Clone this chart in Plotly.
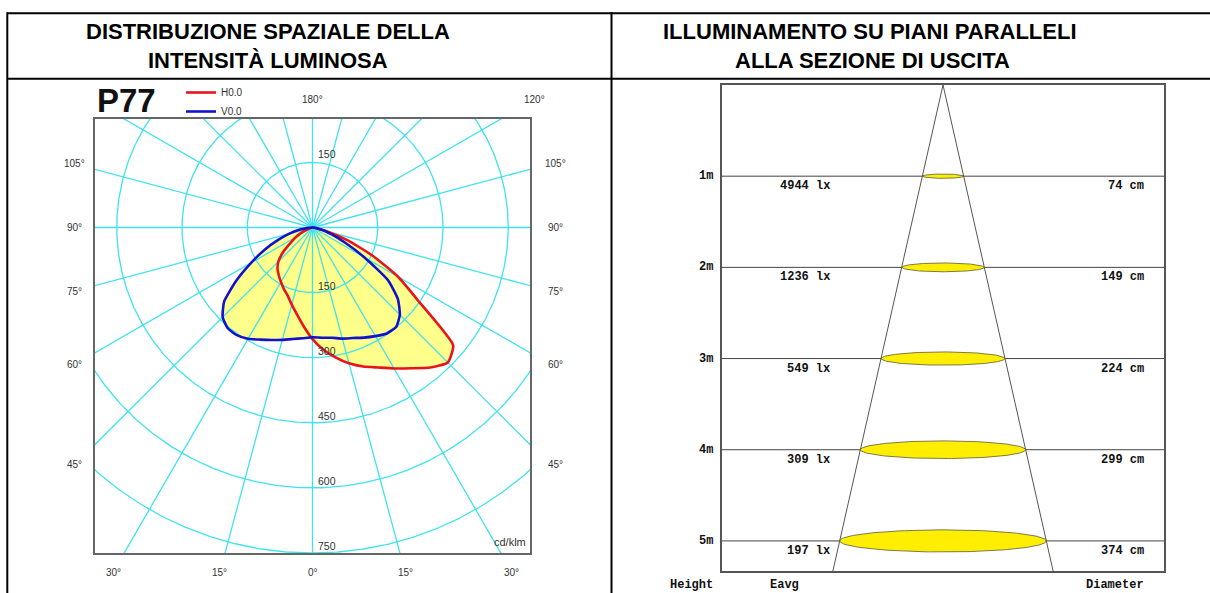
import numpy as np
import plotly.graph_objects as go

W, H = 1210, 593

# ---------------- polar photometric data (cd/klm) ----------------
# gamma measured from the downward vertical; negative = left half-plane
gamma_h0 = [-90, -70, -65, -60, -55, -50, -45, -40, -35, -30, -25, -20, -15, -10, -5, 0,
            5, 10, 15, 20, 25, 30, 35, 40, 45, 50, 55, 60, 65, 70, 75, 80, 90]
cdklm_h0 = [0, 12, 28, 44, 61, 88, 111, 125, 135, 145, 156, 167, 184, 204, 229, 257,
            282, 304, 324, 341, 356, 375, 396, 421, 440, 422, 300, 227, 150, 85, 35, 12, 0]

gamma_v0 = [-90, -85, -80, -75, -70, -65, -60, -55, -50, -45, -40, -35, -30, -25, -20, -15, -10, -5, 0,
            5, 10, 15, 20, 25, 30, 35, 40, 45, 50, 55, 60, 65, 70, 75, 80, 90]
cdklm_v0 = [0, 12, 31, 55, 84, 122, 163, 214, 265, 292, 303, 303, 296, 285, 276, 268, 261, 256, 253,
            255, 258, 265, 271, 280, 289, 298, 299, 284, 256, 212, 138, 82, 47, 27, 12, 0]

grid_radii = [150, 300, 450, 600, 750]
grid_step_deg = 15
side_angle_labels = [105, 90, 75, 60, 45]
bottom_angle_labels = [-30, -15, 0, 15, 30]
top_angle_labels = [180, 120]

# ---------------- illuminance cone data ----------------
heights_m = [1, 2, 3, 4, 5]
eavg_lx = [4944, 1236, 549, 309, 197]
diam_cm = [74, 149, 224, 299, 374]

# ---------------- layout geometry (pixels) ----------------
PX0, PX1, PY0, PY1 = 95, 530, 119, 553      # polar box
RX0, RX1, RY0, RY1 = 722, 1164, 85, 571     # cone box
POL_X = [-500, 500]
POL_Y = [-750, 250]
CONE_X = [-400, 400]
CONE_Y = [5.33, 0]

def dom_x(a, b):
    return [a / W, b / W]

def dom_y(top, bottom):
    return [1 - bottom / H, 1 - top / H]

def to_xy(g, r):
    g = np.radians(np.asarray(g, float))
    r = np.asarray(r, float)
    return r * np.sin(g), -r * np.cos(g)

def pdx(X):  # polar x units -> x-domain fraction (may lie outside 0..1)
    return (X - POL_X[0]) / (POL_X[1] - POL_X[0])

def pdy(Y):
    return (Y - POL_Y[0]) / (POL_Y[1] - POL_Y[0])

fig = go.Figure()

YELLOW = "#FFFF8C"
CYAN = "#3FE3EE"
RED = "#E8141C"
BLUE = "#1212CC"

# fills
for g, r in [(gamma_h0, cdklm_h0), (gamma_v0, cdklm_v0)]:
    x, y = to_xy(g, r)
    fig.add_trace(go.Scatter(x=x, y=y, mode="lines", fill="toself", fillcolor=YELLOW,
                             line=dict(width=0, shape="spline", smoothing=0.5),
                             hoverinfo="skip", showlegend=False, xaxis="x", yaxis="y"))

# polar grid
t = np.linspace(0, 2 * np.pi, 721)
gx, gy = [], []
for R in grid_radii:
    gx += list(R * np.cos(t)) + [None]
    gy += list(R * np.sin(t)) + [None]
for a in range(0, 360, grid_step_deg):
    ex, ey = to_xy([a, a], [0, 1000])
    gx += list(ex) + [None]
    gy += list(ey) + [None]
fig.add_trace(go.Scatter(x=gx, y=gy, mode="lines", line=dict(color=CYAN, width=1.3),
                         hoverinfo="skip", showlegend=False, xaxis="x", yaxis="y"))

# curves
for name, g, r, col in [("H0.0", gamma_h0, cdklm_h0, RED), ("V0.0", gamma_v0, cdklm_v0, BLUE)]:
    x, y = to_xy(g, r)
    fig.add_trace(go.Scatter(x=x, y=y, mode="lines", name=name,
                             line=dict(color=col, width=2.6, shape="spline", smoothing=0.5),
                             xaxis="x", yaxis="y"))

annotations = []
LBL = dict(family="Liberation Sans, Arial, sans-serif", size=10, color="#333333")

# intensity labels on circles
annotations.append(dict(x=0, y=grid_radii[0], xref="x", yref="y", text=str(grid_radii[0]),
                        showarrow=False, xanchor="left", yanchor="bottom", xshift=3,
                        font=dict(LBL, size=10.5)))
for R in grid_radii:
    annotations.append(dict(x=0, y=-R, xref="x", yref="y", text=str(R), showarrow=False,
                            xanchor="left", yanchor="bottom", xshift=3, yshift=-1, font=dict(LBL, size=10.5)))

# angle labels along rays (outside the box)
LABEL_X = 547
for a in side_angle_labels:
    ga = np.radians(a)
    y = -LABEL_X * np.cos(ga) / np.sin(ga)
    for X in (-LABEL_X, 559):
        annotations.append(dict(x=pdx(X), y=pdy(y), xref="x domain", yref="y domain", text=f"{a}°",
                                showarrow=False, xanchor="center", yanchor="middle", font=LBL))
for a in bottom_angle_labels:
    Y = -794
    x = -Y * np.tan(np.radians(a))
    annotations.append(dict(x=pdx(x), y=pdy(Y), xref="x domain", yref="y domain", text=f"{abs(a)}°",
                            showarrow=False, xanchor="center", yanchor="middle", font=LBL))
for a in top_angle_labels:
    Y = 294
    ga = np.radians(a)
    x = Y * np.sin(ga) / (-np.cos(ga))
    annotations.append(dict(x=pdx(x), y=pdy(Y), xref="x domain", yref="y domain", text=f"{a}°",
                            showarrow=False, xanchor="center", yanchor="middle", font=LBL))

annotations.append(dict(x=1, y=0, xref="x domain", yref="y domain", text="cd/klm", showarrow=False,
                        xanchor="right", yanchor="bottom", xshift=-2, yshift=3, font=dict(LBL, size=11)))
annotations.append(dict(x=95 / W, y=1 - 100 / H, xref="paper", yref="paper", text="<b>P77</b>",
                        showarrow=False, xanchor="left", yanchor="middle",
                        font=dict(family="Liberation Sans, Arial, sans-serif", size=33, color="#111")))

# ---------------- cone panel ----------------
lx, ly = [], []
for h in heights_m:
    lx += [CONE_X[0], CONE_X[1], None]
    ly += [h, h, None]
fig.add_trace(go.Scatter(x=lx, y=ly, mode="lines", line=dict(color="#444444", width=1),
                         hoverinfo="skip", showlegend=False, xaxis="x2", yaxis="y2"))

px_per_cm = (RX1 - RX0) / (CONE_X[1] - CONE_X[0])
px_per_m = (RY1 - RY0) / (CONE_Y[0] - CONE_Y[1])
FLAT = 0.107 * px_per_cm / px_per_m
te = np.linspace(0, 2 * np.pi, 181)
for h, d in zip(heights_m, diam_cm):
    ex = d / 2 * np.cos(te)
    ey = h + d / 2 * FLAT * np.sin(te)
    fig.add_trace(go.Scatter(x=ex, y=ey, mode="lines", fill="toself", fillcolor="#FFEE00",
                             line=dict(color="#5a5a3a", width=0.8), hoverinfo="skip",
                             showlegend=False, xaxis="x2", yaxis="y2"))

slope = (diam_cm[-1] / 2) / heights_m[-1]
hb = CONE_Y[0]
fig.add_trace(go.Scatter(x=[-slope * hb, 0, slope * hb], y=[hb, 0, hb], mode="lines",
                         line=dict(color="#555555", width=1), hoverinfo="skip",
                         showlegend=False, xaxis="x2", yaxis="y2"))

MONO = dict(family="Liberation Mono, Courier New, monospace", size=12, color="#111")
for h, e, d in zip(heights_m, eavg_lx, diam_cm):
    annotations.append(dict(x=CONE_X[0], y=h, xref="x2", yref="y2", text=f"<b>{h}m</b>",
                            showarrow=False, xanchor="right", yanchor="middle", xshift=-7, font=MONO))
    annotations.append(dict(x=-201, y=h, xref="x2", yref="y2", text=f"<b>{e} lx</b>",
                            showarrow=False, xanchor="right", yanchor="middle", yshift=-10, font=MONO))
    annotations.append(dict(x=367, y=h, xref="x2", yref="y2", text=f"<b>{d} cm</b>",
                            showarrow=False, xanchor="right", yanchor="middle", yshift=-10, font=MONO))
annotations.append(dict(x=691 / W, y=1 - 585 / H, xref="paper", yref="paper", text="<b>Height</b>",
                        showarrow=False, xanchor="center", yanchor="middle", font=MONO))
annotations.append(dict(x=768 / W, y=1 - 585 / H, xref="paper", yref="paper", text="<b>Eavg</b>",
                        showarrow=False, xanchor="left", yanchor="middle", font=MONO))
annotations.append(dict(x=1146 / W, y=1 - 585 / H, xref="paper", yref="paper", text="<b>Diameter</b>",
                        showarrow=False, xanchor="right", yanchor="middle", font=MONO))

# ---------------- table headers ----------------
HDR = dict(family="Liberation Sans, Arial, sans-serif", size=22, color="#000")
for txt, cx, cy in [("DISTRIBUZIONE SPAZIALE DELLA", 268, 31.7), ("INTENSITÀ LUMINOSA", 268, 60),
                    ("ILLUMINAMENTO SU PIANI PARALLELI", 870, 31.7), ("ALLA SEZIONE DI USCITA", 872, 60)]:
    annotations.append(dict(x=cx / W, y=1 - cy / H, xref="paper", yref="paper", text=f"<b>{txt}</b>",
                            showarrow=False, xanchor="center", yanchor="middle", font=HDR))

shapes = []
for (x0, y0, x1, y1) in [(7.3, 13.3, W, 13.3), (7.3, 78.7, W, 78.7), (7.3, 12.3, 7.3, H), (611.5, 12.3, 611.5, H)]:
    shapes.append(dict(type="line", xref="paper", yref="paper", x0=x0 / W, x1=x1 / W,
                       y0=1 - y0 / H, y1=1 - y1 / H, line=dict(color="#000", width=2)))

ax_common = dict(showgrid=False, zeroline=False, showticklabels=False, ticks="",
                 showline=True, mirror=True, linecolor="#666666", linewidth=1.5, fixedrange=True)

fig.update_layout(
    width=W, height=H, margin=dict(l=0, r=0, t=0, b=0),
    paper_bgcolor="white", plot_bgcolor="white",
    xaxis=dict(ax_common, domain=dom_x(PX0, PX1), range=POL_X),
    yaxis=dict(ax_common, domain=dom_y(PY0, PY1), range=POL_Y),
    xaxis2=dict(ax_common, domain=dom_x(RX0, RX1), range=CONE_X, anchor="y2", linecolor="#555555"),
    yaxis2=dict(ax_common, domain=dom_y(RY0, RY1), range=CONE_Y, anchor="x2", linecolor="#555555"),
    showlegend=True,
    legend=dict(x=181 / W, y=1 - 78 / H, xanchor="left", yanchor="top", bgcolor="rgba(0,0,0,0)",
                font=dict(family="Liberation Sans, Arial, sans-serif", size=10, color="#333"),
                itemwidth=30, tracegroupgap=0),
    annotations=annotations, shapes=shapes,
)

fig.write_html("out.html", config={"displayModeBar": False},
               post_script="document.body.style.margin='0px';document.body.style.padding='0px';")
